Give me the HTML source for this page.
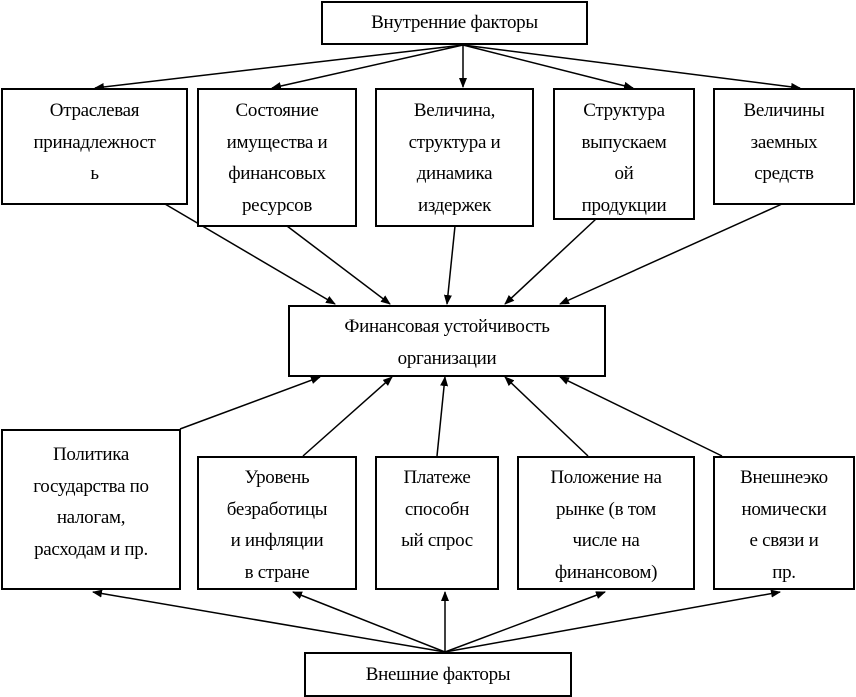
<!DOCTYPE html>
<html><head><meta charset="utf-8"><style>
body{margin:0;width:856px;height:697px;background:#fff;position:relative;overflow:hidden;font-family:"Liberation Serif",serif;}
.b{position:absolute;box-sizing:border-box;border:2px solid #000;background:#fff;text-align:center;font-size:19px;line-height:31.5px;color:#000;letter-spacing:-0.3px}
svg{position:absolute;left:0;top:0}
</style></head><body>
<svg width="856" height="697" viewBox="0 0 856 697">
<defs><marker id="a" markerWidth="10" markerHeight="8" refX="9" refY="4" orient="auto" markerUnits="userSpaceOnUse"><path d="M0,0 L10,4 L0,8 Z" fill="#000"/></marker></defs>
<g stroke="#000" stroke-width="1.5" fill="none" marker-end="url(#a)">
<line x1="463" y1="45" x2="95" y2="88"/>
<line x1="463" y1="45" x2="272" y2="88"/>
<line x1="463" y1="45" x2="463" y2="87"/>
<line x1="463" y1="45" x2="633" y2="88"/>
<line x1="463" y1="45" x2="800" y2="88"/>
<line x1="165" y1="204" x2="335" y2="304"/>
<line x1="287" y1="226" x2="390" y2="304"/>
<line x1="455" y1="226" x2="447" y2="304"/>
<line x1="596" y1="219" x2="505" y2="304"/>
<line x1="782" y1="204" x2="560" y2="304"/>
<line x1="180" y1="429" x2="320" y2="377"/>
<line x1="303" y1="456" x2="392" y2="377"/>
<line x1="437" y1="456" x2="445" y2="377"/>
<line x1="588" y1="456" x2="505" y2="377"/>
<line x1="722" y1="456" x2="560" y2="377"/>
<line x1="445" y1="652" x2="93" y2="592"/>
<line x1="445" y1="652" x2="293" y2="592"/>
<line x1="445" y1="652" x2="445" y2="592"/>
<line x1="445" y1="652" x2="605" y2="592"/>
<line x1="445" y1="652" x2="780" y2="592"/>
</g></svg>
<div class="b" style="left:321px;top:1px;width:267px;height:44px;line-height:40px">Внутренние факторы</div>
<div class="b" style="left:1px;top:88px;width:187px;height:117px;padding-top:5px">Отраслевая<br>принадлежност<br>ь</div>
<div class="b" style="left:197px;top:88px;width:160px;height:139px;padding-top:5px">Состояние<br>имущества и<br>финансовых<br>ресурсов</div>
<div class="b" style="left:375px;top:88px;width:159px;height:139px;padding-top:5px">Величина,<br>структура и<br>динамика<br>издержек</div>
<div class="b" style="left:553px;top:88px;width:142px;height:132px;padding-top:5px">Структура<br>выпускаем<br>ой<br>продукции</div>
<div class="b" style="left:713px;top:88px;width:142px;height:117px;padding-top:5px">Величины<br>заемных<br>средств</div>
<div class="b" style="left:288px;top:305px;width:318px;height:72px;padding-top:4px">Финансовая устойчивость<br>организации</div>
<div class="b" style="left:1px;top:429px;width:180px;height:161px;padding-top:8px">Политика<br>государства по<br>налогам,<br>расходам и пр.</div>
<div class="b" style="left:197px;top:456px;width:160px;height:134px;padding-top:4px">Уровень<br>безработицы<br>и инфляции<br>в стране</div>
<div class="b" style="left:375px;top:456px;width:124px;height:134px;padding-top:4px">Платеже<br>способн<br>ый спрос</div>
<div class="b" style="left:517px;top:456px;width:178px;height:134px;padding-top:4px">Положение на<br>рынке (в том<br>числе на<br>финансовом)</div>
<div class="b" style="left:713px;top:456px;width:142px;height:134px;padding-top:4px">Внешнеэко<br>номически<br>е связи и<br>пр.</div>
<div class="b" style="left:304px;top:652px;width:268px;height:45px;line-height:41px">Внешние факторы</div>
</body></html>
